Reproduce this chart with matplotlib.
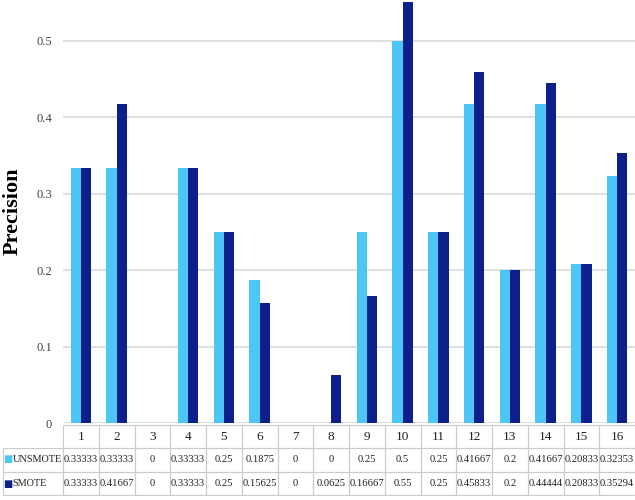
import matplotlib.pyplot as plt
import numpy as np

plt.rcParams['font.family'] = ['Liberation Serif', 'DejaVu Serif']

# data
cats = [str(i) for i in range(1, 17)]
unsmote = [0.33333, 0.33333, 0, 0.33333, 0.25, 0.1875, 0, 0, 0.25, 0.5,
           0.25, 0.41667, 0.2, 0.41667, 0.20833, 0.32353]
smote = [0.33333, 0.41667, 0, 0.33333, 0.25, 0.15625, 0, 0.0625, 0.16667, 0.55,
         0.25, 0.45833, 0.2, 0.44444, 0.20833, 0.35294]
unsmote_txt = ["0.33333", "0.33333", "0", "0.33333", "0.25", "0.1875", "0", "0", "0.25", "0.5",
               "0.25", "0.41667", "0.2", "0.41667", "0.20833", "0.32353"]
smote_txt = ["0.33333", "0.41667", "0", "0.33333", "0.25", "0.15625", "0", "0.0625", "0.16667", "0.55",
             "0.25", "0.45833", "0.2", "0.44444", "0.20833", "0.35294"]

c_light = "#4cc6f5"
c_dark = "#0c1f8a"

fig = plt.figure(figsize=(6.35, 5), dpi=100)
ax = fig.add_axes([63/635, 77/500, 572/635, 423/500])

x = np.arange(len(cats))
w = 0.29
ax.bar(x - w/2, unsmote, w, color=c_light, zorder=3)
ax.bar(x + w/2, smote, w, color=c_dark, zorder=3)

ax.set_xlim(-0.5, len(cats) - 0.5)
ax.set_ylim(0, 0.553)
ax.set_yticks([0, 0.1, 0.2, 0.3, 0.4, 0.5])
ax.set_yticklabels(["0", "0.1", "0.2", "0.3", "0.4", "0.5"], fontsize=9, color="#404040")
ax.yaxis.grid(True, color="#d9dcdc", linewidth=1.2, zorder=0)
ax.tick_params(axis='y', length=0, pad=8)
ax.set_xticks([])
for s in ax.spines.values():
    s.set_visible(False)
ax.set_ylabel("Precision", fontsize=16, fontweight='bold', labelpad=10)

# data table under the bars
lab_w = 60 / 572
col_w = 1 / 16
tbl = ax.table(cellText=[["UNSMOTE"] + unsmote_txt, ["SMOTE"] + smote_txt],
               colLabels=[""] + cats,
               colWidths=[lab_w] + [col_w] * 16,
               cellLoc='center',
               bbox=[-lab_w, -72/423, 1 + lab_w, 70/423])
tbl.auto_set_font_size(False)
for (r, c), cell in tbl.get_celld().items():
    cell.set_edgecolor("#c8cccc")
    cell.set_facecolor("none")
    cell.set_linewidth(0.8)
    cell.get_text().set_fontsize(7.6 if r > 0 else 9.5)
    cell.get_text().set_color("#202020")
    if r == 0 and c == 0:
        cell.set_edgecolor("white")
    if c == 0 and r > 0:
        cell.get_text().set_ha('left')
        cell.PAD = 0.16
        cell.get_text().set_fontsize(7.4)

# legend keys in row labels
fig.text(3/635, 1 - 459/500, "■", color=c_light, fontsize=7, va='center', family='DejaVu Sans')
fig.text(3/635, 1 - 484/500, "■", color=c_dark, fontsize=7, va='center', family='DejaVu Sans')

fig.savefig("out.png", dpi=100)
